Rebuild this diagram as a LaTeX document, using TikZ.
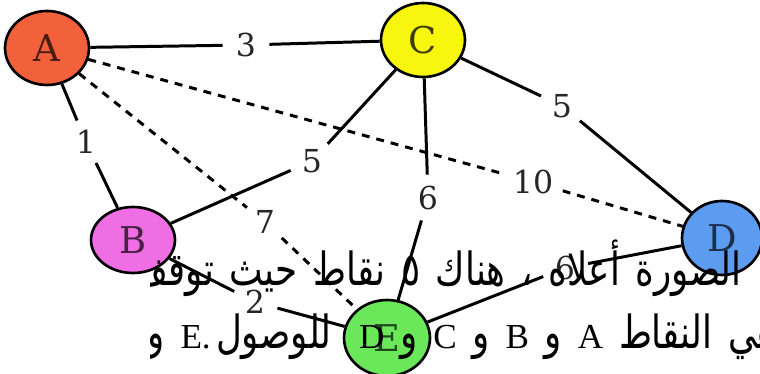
\documentclass[tikz,border=0pt]{standalone}
\usepackage{fontspec}
\setmainfont{Liberation Serif}
\newfontfamily\arabicfont[Script=Arabic, FakeStretch=0.78]{DejaVu Sans}
\newfontfamily\graphfont{DejaVu Serif}
\newfontfamily\latinfont{Liberation Serif}
\TeXXeTstate=1
\usetikzlibrary{shapes.geometric}
\definecolor{cA}{RGB}{242,96,60}
\definecolor{cB}{RGB}{240,110,228}
\definecolor{cC}{RGB}{248,246,14}
\definecolor{cD}{RGB}{92,156,240}
\definecolor{cE}{RGB}{106,232,90}
\newcommand{\lat}[1]{{\latinfont\fontsize{20}{20}\selectfont #1}}
\newcommand{\arsize}{\arabicfont\fontsize{26}{26}\selectfont\spaceskip=9pt\relax}

\begin{document}
\begin{tikzpicture}[x=0.02cm, y=-0.02cm,
    vertex/.style={ellipse, draw=black, line width=1.5pt, inner sep=0pt,
                   minimum width=1.68cm, minimum height=1.48cm,
                   font=\graphfont\fontsize{21}{21}\selectfont},
    weight/.style={circle, inner sep=3pt, text=black!85,
                   font=\graphfont\fontsize{18}{18}\selectfont},
    link/.style={line width=1.7pt},
    hop/.style={line width=1.7pt, dash pattern=on 4.5pt off 4pt},
    arline/.style={anchor=base east, inner sep=0pt, font=\arsize}]
    \useasboundingbox (0,0) rectangle (760,374);
    \fill[white] (0,0) rectangle (760,374);
    \clip (0,0) rectangle (760,374);

    % Vertices
    \node[vertex, fill=cA, text=cA!30!black] (A) at (47,48)  {A};
    \node[vertex, fill=cC, text=cC!25!black] (C) at (423,40) {C};
    \node[vertex, fill=cB, text=cB!30!black, minimum height=1.32cm] (B) at (133,240) {B};
    \node[vertex, fill=cD, text=cD!30!black, minimum width=1.6cm] (D) at (722,238) {D};
    \node[vertex, fill=cE, text=cE!30!black, minimum width=1.72cm, minimum height=1.52cm] (E) at (387,338) {E};

    % Weights
    \node[weight] (w3)  at (246,45)  {3};
    \node[weight] (w1)  at (86,142)  {1};
    \node[weight] (w10) at (533,182) {10};
    \node[weight] (w7)  at (265,222) {7};
    \node[weight] (w5b) at (312,161) {5};
    \node[weight] (w6c) at (428,198) {6};
    \node[weight] (w5d) at (562,106) {5};
    \node[weight] (w2)  at (255,302) {2};
    \node[weight] (w6d) at (565,268) {6};

    % Edges
    \draw[link] (A) -- (w3)  -- (C);
    \draw[link] (A) -- (w1)  -- (B);
    \draw[hop]  (A) -- (w10) -- (D);
    \draw[hop]  (A) -- (w7)  -- (E);
    \draw[link] (C) -- (w5b) -- (B);
    \draw[link] (C) -- (w6c) -- (E);
    \draw[link] (C) -- (w5d) -- (D);
    \draw[link] (B) -- (w2)  -- (E);
    \draw[link] (E) -- (w6d) -- (D);

    % Text over the graph
    \begin{scope}
        \clip (150,0) rectangle (760,374);
        \node[arline] (line1) at (742,286) {\beginR الصورة أعلاه ، هناك ٥ نقاط حيث توقف ماير\endR};
        \node[arline] (line2) at (777,349) {\beginR هي النقاط \lat{A} و \lat{B} و \lat{C} و \lat{D}\endR};
        \node[arline] (line3) at (332,349) {و \lat{E.}\hspace{3pt}للوصول};
    \end{scope}
\end{tikzpicture}
\end{document}
